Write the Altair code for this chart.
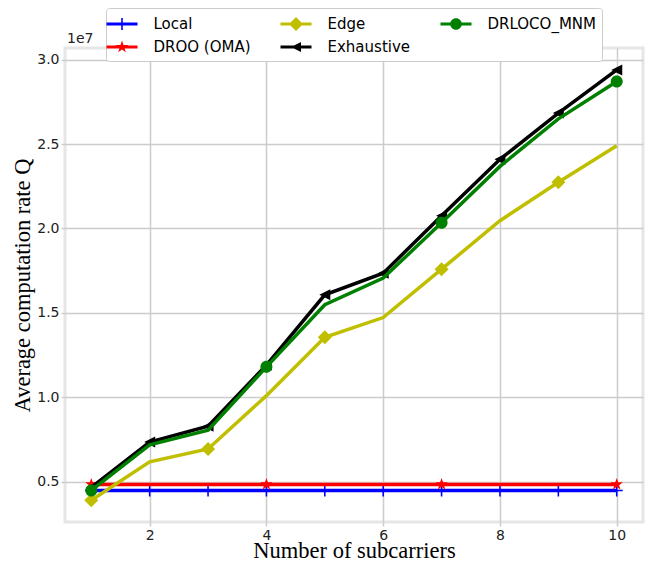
import altair as alt
import pandas as pd

# ---- data (values in units of 1e7) ----
subcarriers = [1, 2, 3, 4, 5, 6, 7, 8, 9, 10]
local = [0.447, 0.447, 0.447, 0.447, 0.447, 0.447, 0.447, 0.447, 0.447, 0.447]
droo = [0.483, 0.483, 0.483, 0.483, 0.483, 0.483, 0.483, 0.483, 0.483, 0.483]
edge = [0.389, 0.617, 0.693, 1.009, 1.355, 1.472, 1.759, 2.046, 2.274, 2.490]
exhaustive = [0.465, 0.734, 0.828, 1.190, 1.607, 1.735, 2.075, 2.410, 2.684, 2.940]
drloco = [0.447, 0.717, 0.804, 1.180, 1.548, 1.706, 2.034, 2.368, 2.650, 2.871]

series_names = ["Local", "DROO (OMA)", "Edge", "Exhaustive", "DRLOCO_MNM"]
series_values = [local, droo, edge, exhaustive, drloco]
marker_at = [
    [1, 2, 3, 4, 5, 6, 7, 8, 9, 10],
    [1, 4, 7, 10],
    [1, 3, 5, 7, 9],
    [1, 2, 3, 4, 5, 6, 7, 8, 9, 10],
    [1, 4, 7, 10],
]
offset_label = ["1e7"]

# ---- styles ----
colors = {"Local": "#0000ff", "DROO (OMA)": "#ff0000", "Edge": "#bfbf00",
          "Exhaustive": "#000000", "DRLOCO_MNM": "#008000"}


def star(r):
    pts = [(0, -1), (0.225, -0.309), (0.951, -0.309), (0.363, 0.118), (0.588, 0.809),
           (0, 0.382), (-0.588, 0.809), (-0.363, 0.118), (-0.951, -0.309), (-0.225, -0.309)]
    return "M" + " L".join(f"{x*r:.3f},{y*r:.3f}" for x, y in pts) + " Z"


def plus(r, t):
    return (f"M{-r},{-t} H{r} V{t} H{-r} Z M{-t},{-r} H{t} V{r} H{-t} Z")


def diamond(r):
    return f"M0,{-r} L{r},0 L0,{r} L{-r},0 Z"


def tri_left(r):
    return f"M{-r},0 L{r},{-r} L{r},{r} Z"


def circle(r):
    return f"M{r},0 A{r},{r} 0 1,1 {-r},0 A{r},{r} 0 1,1 {r},0 Z"


marker_paths = {"Local": plus(1, 0.13), "DROO (OMA)": star(1), "Edge": diamond(1),
                "Exhaustive": tri_left(1), "DRLOCO_MNM": circle(1)}
marker_sizes = {"Local": 144, "DROO (OMA)": 169, "Edge": 196,
                "Exhaustive": 121, "DRLOCO_MNM": 144}

seg = "M-1.55,-0.16 H1.55 V0.16 H-1.55 Z "
legend_paths = {"Local": seg + plus(0.6, 0.08), "DROO (OMA)": seg + star(0.65),
                "Edge": seg + diamond(0.7), "Exhaustive": seg + tri_left(0.5),
                "DRLOCO_MNM": seg + circle(0.58)}

rows = []
for name, vals, marks in zip(series_names, series_values, marker_at):
    for xv, yv in zip(subcarriers, vals):
        rows.append({"series": name, "x": xv, "y": yv, "marker": xv in marks})
df = pd.DataFrame(rows)

x_enc = alt.X("x:Q", scale=alt.Scale(domain=[0.55, 10.45], nice=False, zero=False),
              axis=alt.Axis(values=[2, 4, 6, 8, 10], format="d", title="Number of subcarriers"))
y_enc = alt.Y("y:Q", scale=alt.Scale(domain=[0.26, 3.07], nice=False, zero=False),
              axis=alt.Axis(values=[0.5, 1.0, 1.5, 2.0, 2.5, 3.0], format=".1f",
                            title="Average computation rate Q"))

layers = []
for name in series_names:
    base = alt.Chart(df).transform_filter(alt.datum.series == name)
    layers.append(base.mark_line(strokeWidth=3.5, color=colors[name]).encode(x=x_enc, y=y_enc))
    layers.append(
        base.transform_filter(alt.datum.marker)
        .mark_point(filled=True, color=colors[name], shape=marker_paths[name],
                    size=marker_sizes[name], opacity=1, strokeWidth=0)
        .encode(x=x_enc, y=y_enc)
    )

leg = alt.Legend(orient="none", legendX=41, legendY=-40, columns=3, title=None,
                 labelFont="DejaVu Sans", labelFontSize=15, labelColor="#000000",
                 symbolSize=400, symbolStrokeWidth=0, labelOffset=21.5,
                 columnPadding=29, rowPadding=5, padding=6, labelLimit=300,
                 strokeColor="#cccccc", fillColor="white", cornerRadius=3)

legend_layer = (
    alt.Chart(df).transform_filter("false")
    .mark_point(filled=True, opacity=1)
    .encode(
        x=x_enc, y=y_enc,
        color=alt.Color("series:N", scale=alt.Scale(domain=series_names,
                        range=[colors[n] for n in series_names]), legend=leg),
        shape=alt.Shape("series:N", scale=alt.Scale(domain=series_names,
                        range=[legend_paths[n] for n in series_names]), legend=leg),
    )
)
layers.append(legend_layer)

offset_text = (
    alt.Chart(pd.DataFrame({"t": offset_label}))
    .mark_text(align="left", baseline="alphabetic", font="DejaVu Sans", fontSize=14,
               color="#222222", dx=2, dy=-5)
    .encode(x=alt.value(0), y=alt.value(0), text="t:N")
)
layers.append(offset_text)

chart = (
    alt.layer(*layers)
    .properties(
        width=578, height=474,
        autosize=alt.AutoSizeParams(type="none"),
        padding={"left": 57, "top": 40, "right": 5, "bottom": 38},
    )
    .configure_view(stroke="#e6e6e6", strokeWidth=3)
    .configure_axis(
        grid=True, gridColor="#cccccc", gridWidth=1.5, domain=False,
        ticks=True, tickColor="#cccccc", tickSize=4, tickWidth=1.5,
        labelFont="DejaVu Sans", labelFontSize=14, labelColor="#222222", labelPadding=2,
        titleFont="Liberation Serif", titleFontSize=22.5, titleFontWeight="normal",
        titleColor="#000000",
    )
    .configure_axisX(titleY=35, titleBaseline="alphabetic")
    .configure_axisY(titlePadding=2)
)

chart.save("out.html", embed_options={"renderer": "svg", "actions": False})
